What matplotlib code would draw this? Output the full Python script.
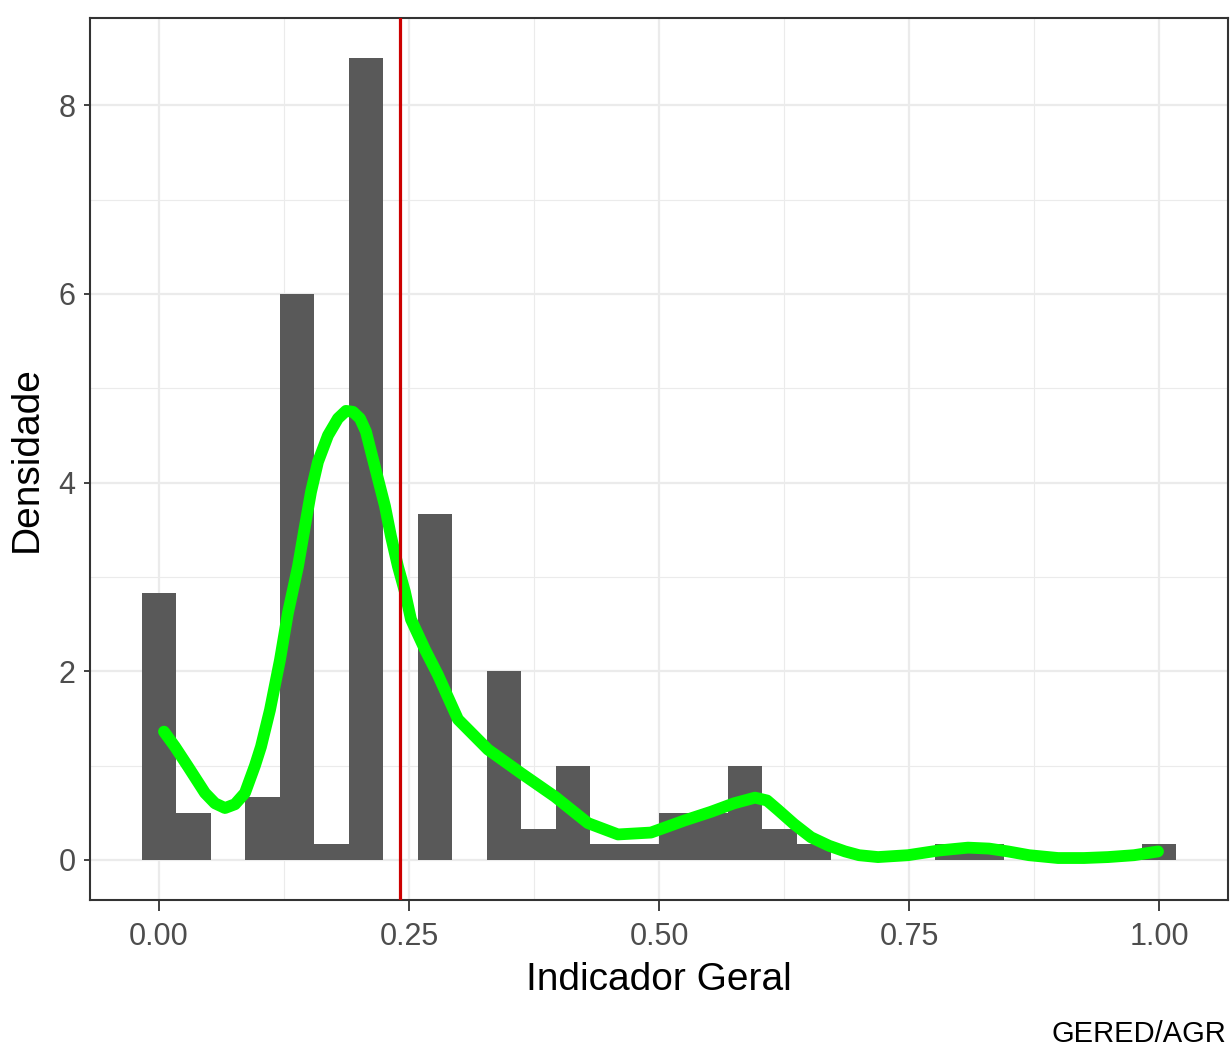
import numpy as np
import matplotlib
matplotlib.use("Agg")
import matplotlib.pyplot as plt
from matplotlib.ticker import MultipleLocator

plt.rcParams['font.family'] = ['Liberation Sans', 'DejaVu Sans']

# Histogram (density scale), 30 bins centred on 0 .. 1
n_bins = 30
bar_density = [2.83, 0.50, 0.00, 0.67, 6.00, 0.17, 8.50, 0.00, 3.67, 0.00,
               2.00, 0.33, 1.00, 0.17, 0.17, 0.50, 0.50, 1.00, 0.33, 0.17,
               0.00, 0.00, 0.00, 0.17, 0.17, 0.00, 0.00, 0.00, 0.00, 0.17]

# Kernel density curve
dens_x = [0.005, 0.016, 0.029, 0.046, 0.056, 0.066, 0.076, 0.086, 0.096, 0.102,
          0.111, 0.121, 0.129, 0.139, 0.146, 0.152, 0.159, 0.169, 0.179, 0.187,
          0.194, 0.201, 0.207, 0.212, 0.219, 0.226, 0.232, 0.239, 0.246, 0.252,
          0.266, 0.279, 0.299, 0.329, 0.362, 0.396, 0.429, 0.459, 0.492, 0.526,
          0.552, 0.575, 0.596, 0.608, 0.619, 0.635, 0.652, 0.670, 0.686, 0.700,
          0.719, 0.749, 0.780, 0.809, 0.830, 0.849, 0.870, 0.899, 0.925, 0.949,
          0.975, 0.999]
dens_y = [1.36, 1.20, 0.99, 0.71, 0.60, 0.55, 0.59, 0.71, 1.00, 1.20,
          1.59, 2.12, 2.62, 3.11, 3.54, 3.90, 4.22, 4.50, 4.68, 4.76,
          4.75, 4.68, 4.54, 4.33, 4.04, 3.75, 3.43, 3.11, 2.84, 2.55,
          2.23, 1.96, 1.49, 1.17, 0.92, 0.67, 0.39, 0.27, 0.29, 0.42,
          0.51, 0.60, 0.66, 0.63, 0.53, 0.38, 0.24, 0.15, 0.09, 0.05,
          0.03, 0.05, 0.10, 0.13, 0.12, 0.09, 0.05, 0.02, 0.02, 0.03,
          0.05, 0.09]

mean_value = 0.241

x_ticks = [0.0, 0.25, 0.5, 0.75, 1.0]
x_tick_labels = ["0.00", "0.25", "0.50", "0.75", "1.00"]
y_ticks = [0, 2, 4, 6, 8]
x_label = "Indicador Geral"
y_label = "Densidade"
caption = "GERED/AGR"

bw = 1.0 / (n_bins - 1)
centers = np.arange(n_bins) * bw

fig = plt.figure(figsize=(12.32, 10.48), dpi=100)
ax = fig.add_axes([90 / 1232, 1 - 900 / 1048, (1228 - 90) / 1232, (900 - 18) / 1048])

ax.bar(centers, bar_density, width=bw, color="#595959", linewidth=0, zorder=2)
ax.plot(dens_x, dens_y, color="#00FF00", lw=8.5, solid_joinstyle="round",
        solid_capstyle="round", zorder=3)
ax.axvline(mean_value, color="#CC0000", lw=2.3, zorder=4)

lo, hi = -bw / 2, 1 + bw / 2
ex = (hi - lo) * 0.05
ax.set_xlim(lo - ex, hi + ex)
ymax = max(bar_density)
ax.set_ylim(-ymax * 0.05, ymax * 1.05)

ax.set_xticks(x_ticks)
ax.set_xticklabels(x_tick_labels)
ax.set_yticks(y_ticks)
ax.xaxis.set_minor_locator(MultipleLocator(0.125))
ax.yaxis.set_minor_locator(MultipleLocator(1))

ax.grid(which="major", color="#EBEBEB", lw=1.6, zorder=0)
ax.grid(which="minor", color="#EBEBEB", lw=0.8, zorder=0)
ax.set_axisbelow(True)

ax.tick_params(axis="x", which="major", length=8, width=1.3, color="#333333",
               labelsize=22, labelcolor="#4D4D4D", pad=8)
ax.tick_params(axis="y", which="major", length=4.5, width=1.3, color="#333333",
               labelsize=22, labelcolor="#4D4D4D", pad=6)
ax.tick_params(which="minor", length=0)

for s in ax.spines.values():
    s.set_color("#333333")
    s.set_linewidth(1.5)

ax.set_xlabel(x_label, fontsize=28, color="black", labelpad=7)
ax.set_ylabel(y_label, fontsize=28, color="black", labelpad=10)

fig.text(1226 / 1232, 1 - 1042 / 1048, caption, ha="right", va="baseline",
         fontsize=21, color="black")

fig.savefig("out.png", dpi=100)
